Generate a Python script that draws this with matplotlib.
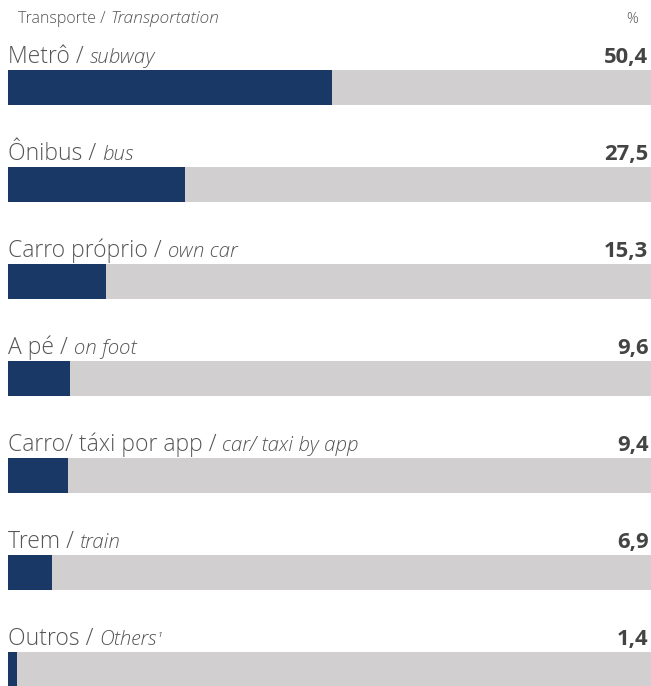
import matplotlib.pyplot as plt

# dados
labels_pt = ["Metrô / ", "Ônibus / ", "Carro próprio / ", "A pé / ",
             "Carro/ táxi por app / ", "Trem / ", "Outros / "]
labels_en = ["subway", "bus", "own car", "on foot",
             "car/ taxi by app", "train", "Others"]
values = [50.4, 27.5, 15.3, 9.6, 9.4, 6.9, 1.4]

NAVY = "#1a3866"
GREY = "#d1cfd0"
TXT = "#555555"
VAL = "#444444"
FONT = "Open Sans"

W, H = 651, 686
fig = plt.figure(figsize=(W / 100, H / 100), dpi=100)
ax = fig.add_axes([8 / W, 0, 1 - 8 / W, 1])

step = 97.0
bar_h = 35 / step
ax.set_xlim(0, 100)
ax.set_ylim((H - 87.5) / step, -87.5 / step)
ax.axis("off")

ypos = list(range(len(values)))
ax.barh(ypos, [100] * len(values), height=bar_h, color=GREY, left=0)
ax.barh(ypos, values, height=bar_h, color=NAVY, left=0)

for i, (pt, en, v) in enumerate(zip(labels_pt, labels_en, values)):
    yb = i - bar_h / 2 - 7 / step
    t1 = ax.text(0, yb, pt, fontsize=16.5, color=TXT, family=FONT,
                 fontweight="light", va="baseline", ha="left")
    t2 = ax.annotate(en, xy=(1, yb), xycoords=(t1, "data"), fontsize=14.8,
                     color=TXT, family=FONT, style="italic", fontweight="light",
                     va="baseline", ha="left")
    if en == "Others":
        ax.annotate("1", xy=(1, yb), xycoords=(t2, "data"),
                    xytext=(0.5, 6), textcoords="offset points",
                    fontsize=6, color=TXT, family=FONT, style="italic",
                    va="baseline", ha="left")
    ax.text(99.6, yb, f"{v:.1f}".replace(".", ","), fontsize=15.8, color=VAL,
            family=FONT, fontweight="bold", va="baseline", ha="right")

# cabeçalho
hy = (23 - 87.5) / step
h1 = ax.text(1.6, hy, "Transporte / ", fontsize=11.5, color=TXT, family=FONT,
             fontweight="light", va="baseline", ha="left")
ax.annotate("Transportation", xy=(1, hy), xycoords=(h1, "data"), fontsize=12.5,
            color=TXT, family=FONT, style="italic", fontweight="light",
            va="baseline", ha="left")
ax.text(98.0, hy, "%", fontsize=10.5, color=TXT, family=FONT,
        fontweight="light", va="baseline", ha="right")

fig.savefig("out.png", dpi=100)
